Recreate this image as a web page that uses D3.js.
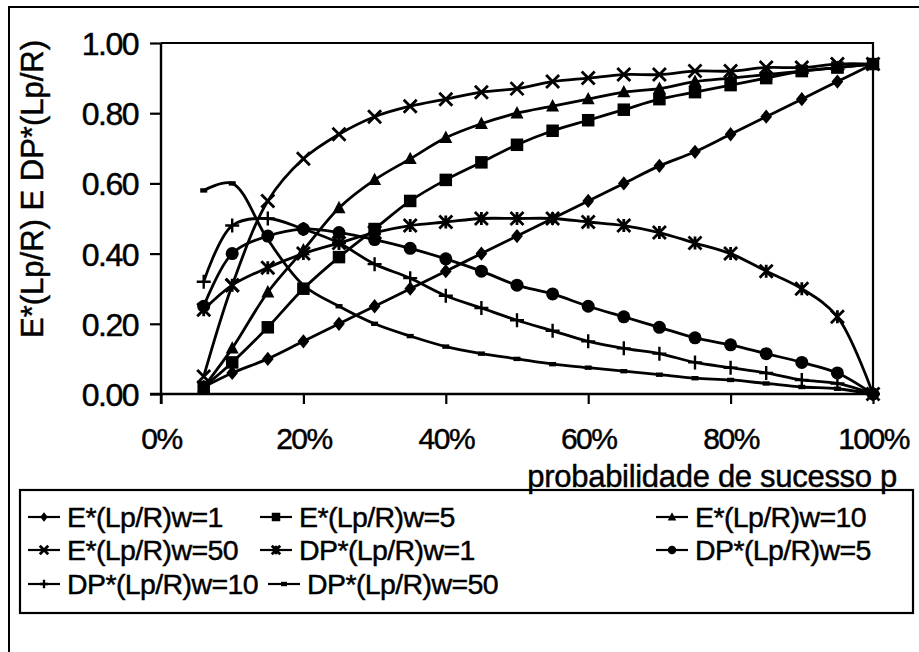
<!DOCTYPE html>
<html>
<head>
<meta charset="utf-8">
<script src="https://cdn.jsdelivr.net/npm/d3@7"></script>
<style>
  html, body { margin: 0; padding: 0; background: #fff; }
  svg { display: block; }
  text { font-family: "Liberation Sans", Arial, sans-serif; fill: #000; stroke: #000; stroke-width: 0.45px; }
</style>
</head>
<body>
<svg id="chart" width="919" height="652"></svg>
<script>
// ---- data ----
const pValues = [0.06, 0.10, 0.15, 0.20, 0.25, 0.30, 0.35, 0.40, 0.45, 0.50,
                 0.55, 0.60, 0.65, 0.70, 0.75, 0.80, 0.85, 0.90, 0.95, 1.00];
const eW1  = [0.02, 0.06, 0.10, 0.15, 0.20, 0.25, 0.30, 0.35, 0.40, 0.45, 0.50, 0.55, 0.60, 0.65, 0.69, 0.74, 0.79, 0.84, 0.89, 0.94];
const eW5  = [0.02, 0.09, 0.19, 0.30, 0.39, 0.47, 0.55, 0.61, 0.66, 0.71, 0.75, 0.78, 0.81, 0.84, 0.86, 0.88, 0.90, 0.92, 0.93, 0.94];
const eW10 = [0.02, 0.13, 0.29, 0.41, 0.53, 0.61, 0.67, 0.73, 0.77, 0.80, 0.82, 0.84, 0.86, 0.87, 0.89, 0.90, 0.91, 0.92, 0.93, 0.94];
const eW50 = [0.05, 0.31, 0.55, 0.67, 0.74, 0.79, 0.82, 0.84, 0.86, 0.87, 0.89, 0.90, 0.91, 0.91, 0.92, 0.92, 0.93, 0.93, 0.94, 0.94];
const dpW1  = [0.24, 0.31, 0.36, 0.40, 0.43, 0.46, 0.48, 0.49, 0.50, 0.50, 0.50, 0.49, 0.48, 0.46, 0.43, 0.40, 0.35, 0.30, 0.22, 0.00];
const dpW5  = [0.25, 0.40, 0.45, 0.47, 0.46, 0.44, 0.415, 0.385, 0.35, 0.31, 0.285, 0.25, 0.22, 0.19, 0.16, 0.14, 0.115, 0.09, 0.06, 0.00];
const dpW10 = [0.32, 0.48, 0.50, 0.47, 0.43, 0.37, 0.33, 0.28, 0.245, 0.21, 0.18, 0.15, 0.13, 0.115, 0.09, 0.075, 0.06, 0.04, 0.03, 0.00];
const dpW50 = [0.58, 0.60, 0.44, 0.31, 0.25, 0.20, 0.165, 0.135, 0.115, 0.10, 0.085, 0.075, 0.065, 0.055, 0.045, 0.04, 0.03, 0.02, 0.015, 0.00];

const seriesNames = ["E*(Lp/R)w=1", "E*(Lp/R)w=5", "E*(Lp/R)w=10", "E*(Lp/R)w=50",
                     "DP*(Lp/R)w=1", "DP*(Lp/R)w=5", "DP*(Lp/R)w=10", "DP*(Lp/R)w=50"];
const seriesValues = [eW1, eW5, eW10, eW50, dpW1, dpW5, dpW10, dpW50];
const markerTypes = ["diamond", "square", "triangle", "cross", "star", "circle", "plus", "dash"];

const xTicks = [0, 0.2, 0.4, 0.6, 0.8, 1.0];
const yTicks = [0, 0.2, 0.4, 0.6, 0.8, 1.0];
const xTitle = "probabilidade de sucesso p";
const yTitle = "E*(Lp/R) E DP*(Lp/R)";

// ---- layout ----
const svg = d3.select("#chart");
const plot = { left: 161, right: 873, top: 43, bottom: 394 };
const x = d3.scaleLinear().domain([0, 1]).range([plot.left, plot.right]);
const y = d3.scaleLinear().domain([0, 1]).range([plot.bottom, plot.top]);

// outer chart border
svg.append("rect").attr("x", 9).attr("y", 7).attr("width", 930).attr("height", 660)
  .attr("fill", "none").attr("stroke", "#000").attr("stroke-width", 2);

// plot frame (top and right)
svg.append("path")
  .attr("d", `M${plot.left},${plot.top}H${plot.right}V${plot.bottom}`)
  .attr("fill", "none").attr("stroke", "#000").attr("stroke-width", 2.2);

// axes
const xAxis = d3.axisBottom(x).tickValues(xTicks).tickSize(10).tickSizeOuter(0)
  .tickFormat(d3.format(".0%"));
const gx = svg.append("g").attr("transform", `translate(0,${plot.bottom})`).call(xAxis);
gx.select(".domain").attr("stroke-width", 2.4).attr("d", `M${plot.left - 11},0H${plot.right}`);
gx.selectAll(".tick line").attr("stroke-width", 2.2);
gx.selectAll(".tick text").attr("font-size", 30).attr("dy", 0).attr("y", 55)
  .attr("font-family", '"Liberation Sans", Arial, sans-serif').attr("letter-spacing", -1.5);

const yAxis = d3.axisLeft(y).tickValues(yTicks).tickSize(11).tickSizeOuter(0)
  .tickFormat(d3.format(".2f"));
const gy = svg.append("g").attr("transform", `translate(${plot.left},0)`).call(yAxis);
gy.select(".domain").attr("stroke-width", 2.4).attr("d", `M0,${plot.top}V${plot.bottom + 10}`);
gy.selectAll(".tick line").attr("stroke-width", 2.2);
gy.selectAll(".tick text").attr("font-size", 32).attr("x", -23).attr("dy", "0.36em")
  .attr("font-family", '"Liberation Sans", Arial, sans-serif').attr("letter-spacing", -1.5);

// axis titles
svg.append("text").attr("x", 897).attr("y", 487).attr("text-anchor", "end")
  .attr("font-size", 31).attr("letter-spacing", -0.3).text(xTitle);
svg.append("text").attr("transform", `translate(43,189) rotate(-90)`)
  .attr("text-anchor", "middle").attr("font-size", 31).text(yTitle);

// ---- markers ----
function drawMarker(g, type, cx, cy, s) {
  const h = s / 2;
  switch (type) {
    case "diamond":
      g.append("path").attr("d", `M${cx},${cy - h * 1.1}L${cx + h * 0.9},${cy}L${cx},${cy + h * 1.1}L${cx - h * 0.9},${cy}Z`).attr("fill", "#000");
      break;
    case "square":
      g.append("rect").attr("x", cx - h).attr("y", cy - h).attr("width", s).attr("height", s).attr("fill", "#000");
      break;
    case "triangle":
      g.append("path").attr("d", `M${cx},${cy - h * 1.1}L${cx + h},${cy + h * 0.8}L${cx - h},${cy + h * 0.8}Z`).attr("fill", "#000");
      break;
    case "circle":
      g.append("circle").attr("cx", cx).attr("cy", cy).attr("r", h).attr("fill", "#000");
      break;
    case "cross":
      g.append("path").attr("d", `M${cx - h},${cy - h}L${cx + h},${cy + h}M${cx - h},${cy + h}L${cx + h},${cy - h}`)
        .attr("stroke", "#000").attr("stroke-width", 2.8);
      break;
    case "star":
      g.append("path").attr("d", `M${cx - h},${cy - h}L${cx + h},${cy + h}M${cx - h},${cy + h}L${cx + h},${cy - h}M${cx},${cy - h}V${cy + h}`)
        .attr("stroke", "#000").attr("stroke-width", 2.8);
      break;
    case "plus":
      g.append("path").attr("d", `M${cx - h},${cy}H${cx + h}M${cx},${cy - h}V${cy + h}`)
        .attr("stroke", "#000").attr("stroke-width", 2.4);
      break;
    case "dash":
      g.append("rect").attr("x", cx - h * 0.7).attr("y", cy - 2.2).attr("width", h * 1.4).attr("height", 4.4).attr("fill", "#000");
      break;
  }
}

const markerSize = { diamond: 13, square: 12.5, triangle: 13, circle: 13, cross: 13, star: 13, plus: 14, dash: 10 };

const line = d3.line().x(d => x(d[0])).y(d => y(d[1])).curve(d3.curveCatmullRom.alpha(0.5));

const gSeries = svg.append("g");
seriesValues.forEach((vals, i) => {
  const pts = pValues.map((p, j) => [p, vals[j]]);
  gSeries.append("path").attr("d", line(pts)).attr("fill", "none")
    .attr("stroke", "#000").attr("stroke-width", 2.8);
});
seriesValues.forEach((vals, i) => {
  const g = gSeries.append("g");
  pValues.forEach((p, j) => drawMarker(g, markerTypes[i], x(p), y(vals[j]), markerSize[markerTypes[i]]));
});

// ---- legend ----
const legend = svg.append("g");
legend.append("rect").attr("x", 20).attr("y", 490).attr("width", 893).attr("height", 123)
  .attr("fill", "none").attr("stroke", "#000").attr("stroke-width", 2.2);
const legendPos = [
  [28, 517], [260, 517], [656, 517],
  [28, 550], [260, 550], [656, 550],
  [28, 584], [268, 584]
];
seriesNames.forEach((name, i) => {
  const [lx, ly] = legendPos[i];
  const g = legend.append("g");
  g.append("line").attr("x1", lx).attr("x2", lx + 32).attr("y1", ly).attr("y2", ly)
    .attr("stroke", "#000").attr("stroke-width", 2.2);
  drawMarker(g, markerTypes[i], lx + 16, ly, 8.5);
  g.append("text").attr("x", lx + 39).attr("y", ly).attr("dy", "0.36em")
    .attr("font-size", 28.5).attr("letter-spacing", -0.6).text(name);
});
</script>
</body>
</html>
